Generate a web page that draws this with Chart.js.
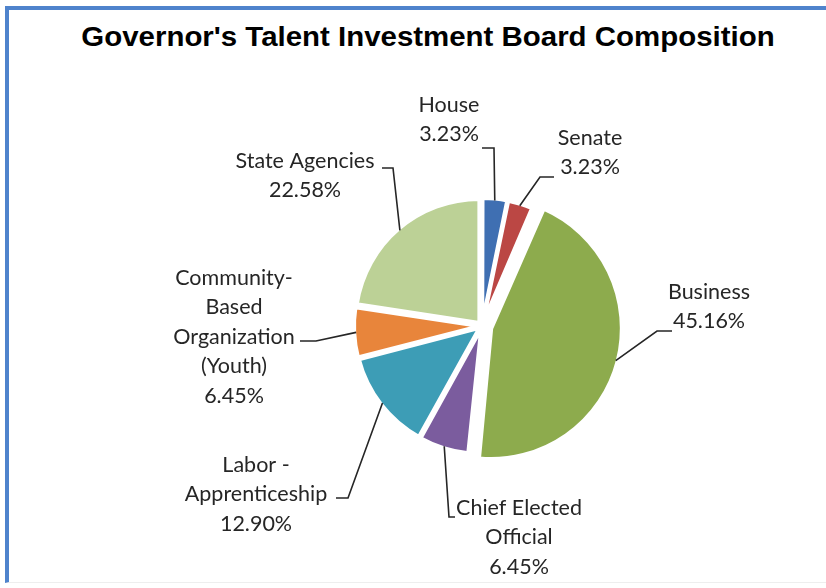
<!DOCTYPE html>
<html lang="en">
<head>
  <meta charset="UTF-8" />
  <title>Governor's Talent Investment Board Composition</title>
  <script src="https://cdn.jsdelivr.net/npm/chart.js"></script>
  <style>
    html, body { margin: 0; padding: 0; background: #fff; }
    body { width: 826px; height: 588px; position: relative; overflow: hidden; }
    .frame {
      position: absolute; left: 5px; top: 6px; right: -10px; bottom: 5px;
      border-left: 4px solid #4f83cc; border-top: 4px solid #4f83cc;
      border-bottom: 1px solid #eeeeee;
    }
    h1 {
      position: absolute; left: 0; top: 21px; width: 856px; margin: 0;
      text-align: center; font: bold 27px "Liberation Sans", Arial, sans-serif;
      color: #000; line-height: 32px;
      transform: scaleX(1.09); transform-origin: 428px 0;
    }
    #board { position: absolute; left: 0; top: 0; }
  </style>
</head>
<body>
<div class="frame"></div>
<h1>Governor's Talent Investment Board Composition</h1>
<canvas id="board" width="826" height="588"></canvas>

<script>
  // board seats by group, share of the 31 seats (%)
  const categories = ['House', 'Senate', 'Business', 'Chief Elected Official',
    'Labor - Apprenticeship', 'Community-Based Organization (Youth)', 'State Agencies'];
  const shares = [3.23, 3.23, 45.16, 6.45, 12.90, 6.45, 22.58];

  const colors = ['#3f6fb2', '#bb4744', '#8dab4d', '#7b5c9e', '#3d9db6', '#e8853b', '#bcd196'];
  const sliceOffsets = [9, 9, 38, 10, 12, 10, 16];

  // label text lines, where the text sits, and the leader line bend
  const labelLayout = [
    { lines: ['House'], x: 449, y: 105, lead: [[482, 148], [494, 148]] },
    { lines: ['Senate'], x: 590, y: 138, lead: [[554, 177], [540, 177]] },
    { lines: ['Business'], x: 709, y: 292, lead: [[672, 331], [657, 331]] },
    { lines: ['Chief Elected', 'Official'], x: 519, y: 508, lead: [[455, 517], [449, 517]] },
    { lines: ['Labor -', 'Apprenticeship'], x: 256, y: 465, lead: [[336, 498], [348, 498]] },
    { lines: ['Community-', 'Based', 'Organization', '(Youth)'], x: 234, y: 278, lead: [[300, 341], [316, 341]] },
    { lines: ['State Agencies'], x: 305, y: 161, lead: [[382, 168], [393, 168]] }
  ];
  const lineGap = 29.5;

  // point on the drawn outer edge of an arc, at its middle angle
  function edgePoint(arc) {
    const p = arc.getProps(['x', 'y', 'startAngle', 'endAngle', 'outerRadius', 'circumference']);
    const off = (arc.options.offset || 0) / 4;
    const fix = 1 - Math.sin(Math.min(Math.PI, p.circumference));
    const mid = (p.startAngle + p.endAngle) / 2;
    const r = p.outerRadius + off * (1 + fix) - 2;
    return [p.x + Math.cos(mid) * r, p.y + Math.sin(mid) * r];
  }

  const calloutLabels = {
    id: 'calloutLabels',
    afterDatasetsDraw(chart) {
      const ctx = chart.ctx;
      const arcs = chart.getDatasetMeta(0).data;
      ctx.save();
      ctx.strokeStyle = '#262626';
      ctx.lineWidth = 1.6;
      arcs.forEach((arc, i) => {
        const lay = labelLayout[i];
        const end = edgePoint(arc);
        ctx.beginPath();
        ctx.moveTo(lay.lead[0][0], lay.lead[0][1]);
        ctx.lineTo(lay.lead[1][0], lay.lead[1][1]);
        ctx.lineTo(end[0], end[1]);
        ctx.stroke();
      });
      ctx.fillStyle = '#262626';
      ctx.font = '21.5px Lato, "Open Sans", sans-serif';
      ctx.textAlign = 'center';
      ctx.textBaseline = 'middle';
      labelLayout.forEach((lay, i) => {
        const text = lay.lines.concat([shares[i].toFixed(2) + '%']);
        text.forEach((t, k) => ctx.fillText(t, lay.x, lay.y + k * lineGap));
      });
      ctx.restore();
    }
  };

  new Chart(document.getElementById('board'), {
    type: 'pie',
    data: {
      labels: categories,
      datasets: [{
        data: shares,
        backgroundColor: colors,
        borderColor: '#ffffff',
        borderWidth: 4,
        offset: sliceOffsets
      }]
    },
    options: {
      responsive: false,
      animation: false,
      layout: { padding: { left: 337, top: 181, right: 199, bottom: 117 } },
      plugins: {
        legend: { display: false },
        tooltip: { enabled: false }
      }
    },
    plugins: [calloutLabels]
  });
</script>
</body>
</html>
